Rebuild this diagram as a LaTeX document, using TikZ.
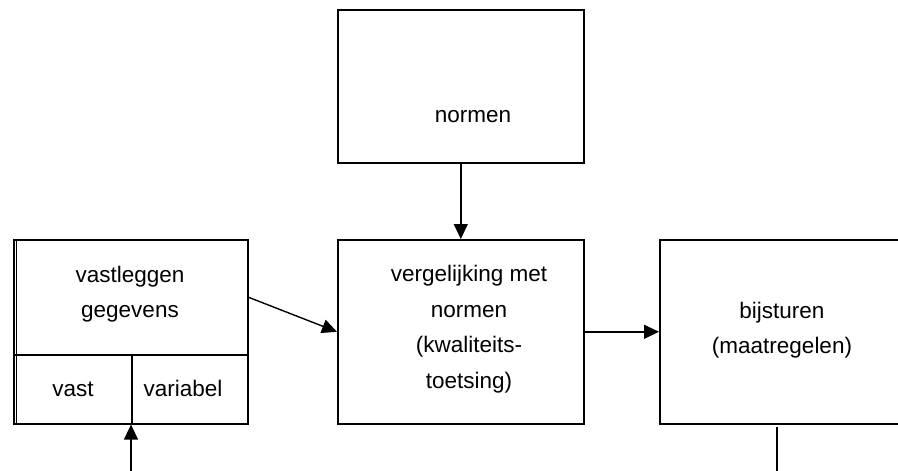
\documentclass[tikz,border=0pt]{standalone}
\usepackage{fontspec}
\setmainfont{Liberation Sans}
\usetikzlibrary{arrows.meta}
\begin{document}
\begin{tikzpicture}[x=1pt,y=-1pt,
  box/.style={draw, line width=1.6pt, rectangle, inner sep=0pt, anchor=north west},
  lbl/.style={font=\fontsize{22.5}{35.5}\selectfont, align=center, inner sep=0pt},
  arr/.style={line width=1.4pt, -{Triangle[length=15pt,width=14pt]}},
  ln/.style={line width=1.4pt}]
\useasboundingbox (0,0) rectangle (898,471);
\clip (0,0) rectangle (898,471);

% boxes
\node[box, minimum width=246pt, minimum height=153pt] (normen) at (337,9) {};
\node[box, minimum width=246pt, minimum height=184pt] (vgl) at (337,239) {};
\node[box, minimum width=246pt, minimum height=184pt] (bijst) at (659,239) {};

% record box on the left: header plus two fields, with a doubled left edge
\node[box, minimum width=234pt, minimum height=115pt] (vastl) at (13,239) {};
\node[box, minimum width=118pt, minimum height=69pt] (vastc) at (13,354) {};
\node[box, minimum width=116pt, minimum height=69pt] (varc) at (131,354) {};
\draw[line width=1.1pt] ([xshift=3.8pt]vastl.north west) -- ([xshift=3.8pt]vastc.south west);

% texts
\node[lbl] (normen-t) at (473,117) {normen};
\node[lbl] (vgl-t) at (469,329) {vergelijking met\\normen\\(kwaliteits-\\toetsing)};
\node[lbl] (bijst-t) at (782,330) {bijsturen\\(maatregelen)};
\node[lbl] (vastl-t) at (130,294) {vastleggen\\gegevens};
\node[lbl] (vast-t) at (73,389) {vast};
\node[lbl] (var-t) at (183,388) {variabel};

% connectors
\coordinate (inflow) at (131,471);
\coordinate (outtop) at (777,427);
\coordinate (outbot) at (777,471);
\draw[arr] (normen.south) -- (vgl.north);
\draw[arr] (vastl.east) -- (vgl.west);
\draw[arr] (vgl.east) -- (bijst.west);
\draw[arr] (inflow) -- (varc.south west);
\draw[ln] (outtop) -- (outbot);
\end{tikzpicture}
\end{document}
